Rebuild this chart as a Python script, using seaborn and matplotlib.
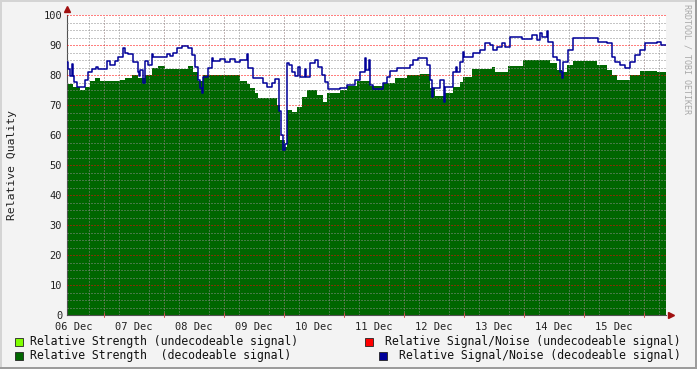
#!/usr/bin/env python3
"""Relative signal quality over ten days, drawn in the old rrdtool look."""

import numpy as np
import pandas as pd
import seaborn as sns
import matplotlib

matplotlib.use("Agg")
import matplotlib.pyplot as plt
from matplotlib.patches import Rectangle

# hours since 06 Dec 00:00
str_hours = [9.2, 11.6, 14.4, 16.4, 18.4, 20.4, 22.4, 30.4, 32.4, 35.2,
             37.6, 40.4, 43.2, 45.6, 48.4, 57.6, 59.6, 61.6, 63.6, 78.4,
             81.2, 82.4, 84.4, 85.6, 93.2, 94.4, 96.4, 97.2, 99.2, 101.2,
             103.2, 105.2, 109.2, 111.6, 113.2, 118.4, 121.2, 125.2, 130.4, 135.6,
             140.4, 145.2, 150.4, 154.4, 156.4, 160.4, 163.6, 166.4, 167.6, 171.2,
             179.2, 180.4, 185.6, 191.6, 202.4, 205.2, 207.2, 209.2, 211.6, 221.2,
             225.2, 227.2, 229.2, 234.4, 238.4, 245.2, 248.8]
str_vals = [77, 76, 75, 76, 78, 79, 78, 78.5, 79, 80,
            79, 80, 82.5, 83, 82, 83, 81, 78, 80, 78,
            77, 75.7, 74, 72.3, 70, 58.3, 56, 68.3, 67.8, 69.4,
            72.7, 75, 73.3, 71, 74, 75, 76.3, 78, 76.5, 77.3,
            79, 80, 80.5, 75.6, 73, 74, 76, 77.8, 79.4, 82,
            82.8, 81, 83, 85, 84, 81.7, 81, 83.3, 84.7, 83.3,
            81.7, 80, 78.3, 80, 81.4, 81, 81]

snr_hours = [9.2, 9.6, 10.4, 11.2, 11.6, 12.0, 13.2, 16.4, 17.6, 19.2,
             20.8, 21.6, 25.2, 26.4, 28.4, 29.6, 31.6, 32.4, 33.6, 35.6,
             37.6, 38.0, 38.4, 39.6, 40.4, 41.6, 43.2, 43.6, 49.2, 50.4,
             51.6, 53.2, 55.2, 57.6, 59.2, 60.4, 61.6, 62.4, 63.2, 63.6,
             65.6, 67.2, 67.6, 70.4, 72.4, 74.4, 76.4, 78.4, 81.2, 81.6,
             83.6, 87.6, 89.2, 91.2, 92.4, 94.0, 94.8, 95.6, 96.4, 97.2,
             98.0, 99.2, 100.4, 101.6, 102.4, 104.4, 104.8, 106.4, 108.4, 109.6,
             111.2, 112.4, 113.6, 118.4, 121.2, 124.4, 126.4, 128.4, 128.8, 130.0,
             130.4, 131.6, 135.6, 137.2, 138.4, 141.2, 146.4, 147.6, 149.6, 153.2,
             154.4, 155.2, 155.6, 158.4, 160.0, 160.4, 163.6, 164.8, 165.2, 166.4,
             167.6, 168.0, 171.6, 174.4, 176.4, 178.4, 179.6, 181.2, 183.2, 184.4,
             186.4, 191.2, 195.2, 197.2, 198.4, 199.2, 201.2, 201.6, 203.6, 205.2,
             206.4, 207.2, 207.6, 209.6, 211.6, 218.4, 221.6, 225.2, 227.2, 228.4,
             230.4, 232.4, 234.4, 236.4, 238.4, 240.4, 245.2, 246.8, 248.8]
snr_vals = [84.4, 82, 79.7, 83.7, 79.7, 77.8, 75.9, 78.3, 80.9, 81.9,
            82.8, 81.9, 84.8, 83.3, 84.7, 86, 88.9, 87.2, 86.9, 84.4,
            81.1, 79.7, 81.7, 77.2, 84.7, 83.3, 86.9, 85.9, 86.9, 86.2,
            87.2, 88.9, 89.8, 88.9, 86.7, 82.8, 78.3, 75.6, 73.9, 79.4,
            82.2, 85.6, 84.7, 85.5, 84.5, 85.5, 84.5, 85, 87, 82.3,
            78.9, 77.2, 76.1, 77.2, 78.7, 68, 60, 55, 57, 84,
            83.3, 81.1, 79.7, 82.8, 79.4, 82, 79.4, 84, 85, 82.8,
            80, 77.8, 75.2, 75.6, 76.7, 78.3, 81.1, 85.6, 81.7, 85,
            76.7, 75.2, 77.2, 79.4, 81.3, 82.2, 83.3, 85, 85.6, 83.3,
            78.3, 72.8, 75.6, 78.3, 71.1, 76.1, 81.1, 82.8, 81.1, 84.4,
            87.8, 86.1, 87.2, 88.3, 90.6, 90, 88.3, 89.4, 90.6, 89.4,
            92.8, 91.9, 93.3, 91.7, 93.9, 92.8, 94.8, 91.1, 86.1, 85,
            81.1, 79, 84.4, 88.3, 92.2, 92.5, 91.1, 90.6, 86.1, 84.4,
            83.3, 82.2, 84.4, 86.7, 88.3, 90.6, 91.1, 90, 90]

day_labels = ["06 Dec", "07 Dec", "08 Dec", "09 Dec", "10 Dec",
              "11 Dec", "12 Dec", "13 Dec", "14 Dec", "15 Dec"]

legend_left = ["Relative Strength (undecodeable signal)",
               "Relative Strength  (decodeable signal)"]
legend_right = ["Relative Signal/Noise (undecodeable signal)",
                "Relative Signal/Noise (decodeable signal)"]

C_LIME = "#80ff00"
C_RED = "#ff0000"
C_GREEN = "#006600"
C_NAVY = "#000099"
BG = "#f3f3f3"

sns.set_theme(style="white")
plt.rcParams["font.family"] = ["DejaVu Sans Mono"]

W, H = 697, 369
fig = plt.figure(figsize=(W / 100, H / 100), dpi=100, facecolor=BG)
ax = fig.add_axes([67 / W, 54 / H, 599 / W, 300 / H])
ax.set_facecolor("white")

strength = pd.DataFrame({"hour": str_hours, "value": str_vals})
snr = pd.DataFrame({"hour": snr_hours, "value": snr_vals})

ax.fill_between(strength["hour"], strength["value"], step="post",
                color=C_GREEN, linewidth=0, zorder=1)
sns.lineplot(data=snr, x="hour", y="value", ax=ax, color=C_NAVY,
             drawstyle="steps-post", linewidth=1.1, estimator=None,
             sort=False, zorder=3)

x0, x1 = str_hours[0], str_hours[-1]
ax.set_xlim(x0, x1)
ax.set_ylim(0, 100)

# grid: grey dotted minor, red dotted major (drawn over the area)
dots = (0, (1, 2))
minor_col = (0.55, 0.55, 0.55, 0.35)
major_col = (1, 0, 0, 0.22)
ax.set_axisbelow(False)
ax.set_yticks(np.arange(0, 101, 10))
ax.set_yticks(np.arange(0, 101, 2.5), minor=True)
ax.set_xticks(np.arange(12, 240, 24), labels=day_labels)
ax.set_xticks(np.arange(12, x1, 6), minor=True)
ax.grid(which="minor", color=minor_col, linestyle=dots, linewidth=0.72)
ax.grid(which="major", axis="y", color=major_col, linestyle=dots, linewidth=0.72)
ax.grid(which="major", axis="x", visible=False)
for h in range(24, 241, 24):
    ax.axvline(h, color=major_col, linestyle=dots, linewidth=0.72, zorder=2)
    ax.axvline(h, ymin=-0.008, ymax=0.008, color="#d05050", linewidth=0.7,
               clip_on=False, zorder=4)

for s in ["top", "right"]:
    ax.spines[s].set_visible(False)
for s in ["left", "bottom"]:
    ax.spines[s].set_color("#505050")
    ax.spines[s].set_linewidth(0.8)

ax.tick_params(axis="y", which="major", direction="inout", length=3, width=0.7,
               color="#606060", labelsize=7.5, pad=2, labelcolor="#222222")
ax.tick_params(axis="y", which="minor", direction="inout", length=2, width=0.6,
               color="#a0a0a0")
ax.tick_params(axis="x", which="major", length=0, labelsize=7.5, pad=5,
               labelcolor="#222222")
ax.tick_params(axis="x", which="minor", direction="inout", length=2, width=0.6,
               color="#a0a0a0")
ax.set_xlabel("")
ax.set_ylabel("Relative Quality", fontsize=8.2, color="#222222")
ax.yaxis.set_label_coords(-50 / 599, 0.5)

# axis arrows
ax.plot([0], [1.02], marker="^", markersize=4, color="#a01010", clip_on=False,
        transform=ax.transAxes, zorder=5)
ax.plot([1.008], [0], marker=">", markersize=4, color="#a01010", clip_on=False,
        transform=ax.transAxes, zorder=5)

# watermark
fig.text(687 / W, 1 - 4 / H, "RRDTOOL / TOBI OETIKER", rotation=270,
         ha="center", va="top", fontsize=6, color="#a8a8a8")

# legend
rows_y = [341, 355]
for i, (txt, col) in enumerate(zip(legend_left, [C_LIME, C_GREEN])):
    y = rows_y[i]
    fig.patches.append(Rectangle((15 / W, 1 - (y + 4.5) / H), 8 / W, 8 / H,
                                 transform=fig.transFigure, facecolor=col,
                                 edgecolor="#222222", linewidth=0.6))
    fig.text(30 / W, 1 - y / H, txt, ha="left", va="center", fontsize=8.3,
             color="#111111")
for i, (txt, col) in enumerate(zip(legend_right, [C_RED, C_NAVY])):
    y = rows_y[i]
    fig.text(681 / W, 1 - y / H, txt, ha="right", va="center", fontsize=8.3,
             color="#111111")
    sq_x = 365 if i == 0 else 379
    fig.patches.append(Rectangle((sq_x / W, 1 - (y + 4.5) / H), 8 / W, 8 / H,
                                 transform=fig.transFigure, facecolor=col,
                                 edgecolor="#222222", linewidth=0.6))

# 3d frame around the image
fig.patches.append(Rectangle((0, 1 - 2 / H), 1, 2 / H, transform=fig.transFigure,
                             facecolor="#d4d4d4", linewidth=0))
fig.patches.append(Rectangle((0, 0), 2 / W, 1, transform=fig.transFigure,
                             facecolor="#d4d4d4", linewidth=0))
fig.patches.append(Rectangle((0, 0), 1, 2 / H, transform=fig.transFigure,
                             facecolor="#9c9c9c", linewidth=0))
fig.patches.append(Rectangle((1 - 2 / W, 0), 2 / W, 1, transform=fig.transFigure,
                             facecolor="#9c9c9c", linewidth=0))

fig.savefig("out.png", dpi=100, facecolor=BG)
